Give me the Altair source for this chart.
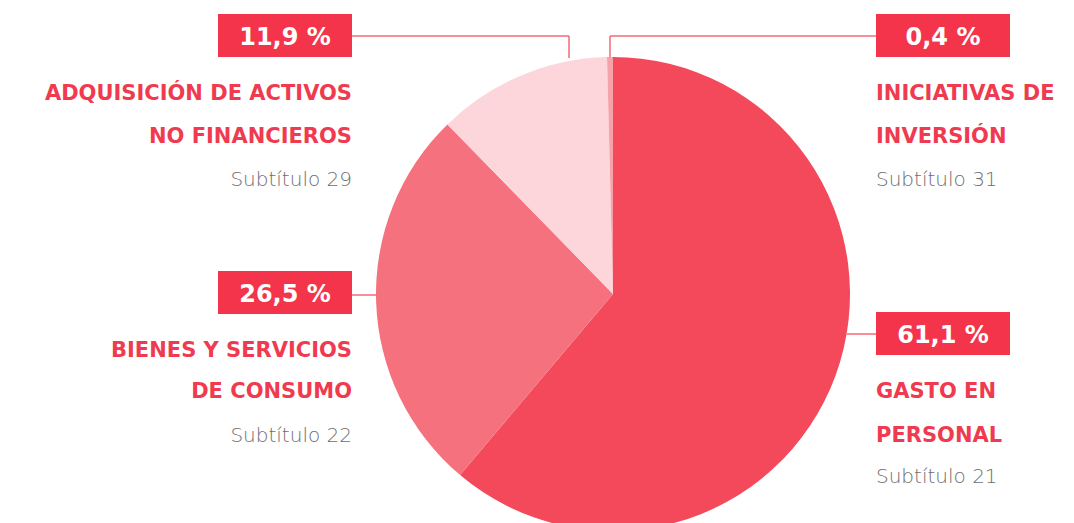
import altair as alt
import pandas as pd

# ---------------- data ----------------
categories = ["Gasto en personal", "Bienes y servicios de consumo",
              "Adquisición de activos no financieros", "Iniciativas de inversión"]
values = [61.1, 26.5, 11.9, 0.4]
pct_labels = ["61,1 %", "26,5 %", "11,9 %", "0,4 %"]
line1 = ["GASTO EN", "BIENES Y SERVICIOS", "ADQUISICIÓN DE ACTIVOS", "INICIATIVAS DE"]
line2 = ["PERSONAL", "DE CONSUMO", "NO FINANCIEROS", "INVERSIÓN"]
subtitles = ["Subtítulo 21", "Subtítulo 22", "Subtítulo 29", "Subtítulo 31"]

# ---------------- layout (page pixel coordinates) ----------------
W, H = 1058, 515
OFF = 8
PIE_CX, PIE_CY, PIE_R = 613, 294, 237
slice_colors = ["#F4495B", "#F5717E", "#FCD6DA", "#F7A1A9"]
RED_BOX = "#F3344A"
RED_TEXT = "#F03A4F"
LEADER = "#F36A78"
GREY = "#6E6E6E"

box_x = [876, 218, 218, 876]
box_y = [312, 271, 14, 14]
BOX_W, BOX_H = 134, 43
align = ["left", "right", "right", "left"]
anchor_x = [876, 352, 352, 876]
line1_y = [398, 357, 100, 100]
line2_y = [442, 398, 143, 143]
sub_y = [483, 442, 186, 186]

# leader segments (x, y, x2, y2)
seg_x = [847, 352, 352, 569, 610, 610]
seg_y = [334, 295, 36, 36, 36, 36]
seg_x2 = [876, 377, 569, 569, 876, 610]
seg_y2 = [334, 295, 36, 58, 36, 57]

xs = alt.Scale(domain=[OFF, OFF + W], nice=False, zero=False)
ys = alt.Scale(domain=[OFF + H, OFF], nice=False, zero=False)

pie_df = pd.DataFrame({
    "cat": categories, "val": values, "ord": list(range(len(values))),
    "cx": [PIE_CX] * 4, "cy": [PIE_CY] * 4,
})

pie = alt.Chart(pie_df).mark_arc(outerRadius=PIE_R).encode(
    theta=alt.Theta("val:Q", stack=True),
    order=alt.Order("ord:Q"),
    color=alt.Color("cat:N", scale=alt.Scale(domain=categories, range=slice_colors), legend=None),
    x=alt.X("cx:Q", scale=xs, axis=None),
    y=alt.Y("cy:Q", scale=ys, axis=None),
)

seg_df = pd.DataFrame({"x": seg_x, "y": seg_y, "x2": seg_x2, "y2": seg_y2})
leaders = alt.Chart(seg_df).mark_rule(color=LEADER, strokeWidth=1.5).encode(
    x=alt.X("x:Q", scale=xs, axis=None), x2="x2:Q",
    y=alt.Y("y:Q", scale=ys, axis=None), y2="y2:Q",
)

box_df = pd.DataFrame({
    "x": box_x, "x2": [b + BOX_W for b in box_x],
    "y": box_y, "y2": [b + BOX_H for b in box_y],
    "cx": [b + BOX_W / 2 for b in box_x],
    "ty": [b + 31 for b in box_y],
    "t": pct_labels,
})
boxes = alt.Chart(box_df).mark_rect(color=RED_BOX).encode(
    x=alt.X("x:Q", scale=xs, axis=None), x2="x2:Q",
    y=alt.Y("y:Q", scale=ys, axis=None), y2="y2:Q",
)
box_text = alt.Chart(box_df).mark_text(
    color="white", font="DejaVu Sans", fontWeight="bold", fontSize=24, baseline="alphabetic", align="center"
).encode(
    x=alt.X("cx:Q", scale=xs, axis=None),
    y=alt.Y("ty:Q", scale=ys, axis=None),
    text="t:N",
)

layers = [pie, leaders, boxes, box_text]
for i in range(4):
    df_l = pd.DataFrame({"x": [anchor_x[i]] * 2, "y": [line1_y[i], line2_y[i]],
                         "t": [line1[i], line2[i]]})
    layers.append(alt.Chart(df_l).mark_text(
        color=RED_TEXT, font="DejaVu Sans", fontWeight="bold", fontSize=21,
        baseline="alphabetic", align=align[i]
    ).encode(x=alt.X("x:Q", scale=xs, axis=None), y=alt.Y("y:Q", scale=ys, axis=None), text="t:N"))
    df_s = pd.DataFrame({"x": [anchor_x[i]], "y": [sub_y[i]], "t": [subtitles[i]]})
    layers.append(alt.Chart(df_s).mark_text(
        color=GREY, font="DejaVu Sans", fontWeight=200, fontSize=20,
        baseline="alphabetic", align=align[i]
    ).encode(x=alt.X("x:Q", scale=xs, axis=None), y=alt.Y("y:Q", scale=ys, axis=None), text="t:N"))

chart = alt.layer(*layers).properties(
    width=W, height=H, autosize=alt.AutoSizeParams(type="none"), padding=0
).configure_view(stroke=None)

chart.save("out.html", embed_options={"renderer": "svg", "actions": False})
